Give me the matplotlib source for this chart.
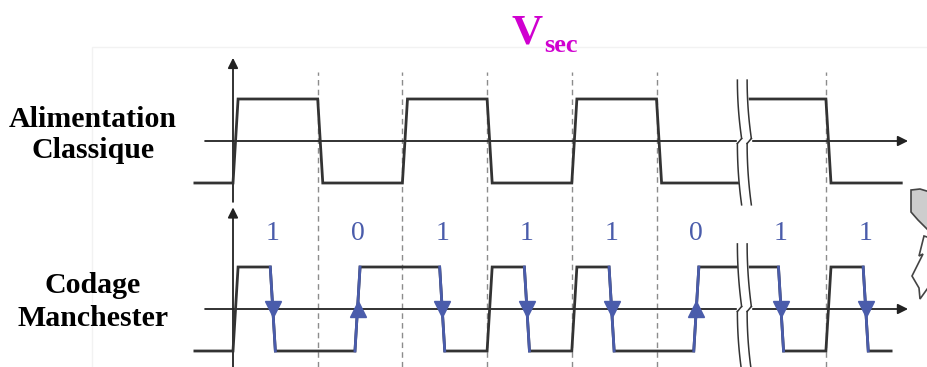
import numpy as np
import matplotlib.pyplot as plt
from matplotlib.patches import Polygon, Rectangle

# données : bits transmis et horloge de l'alimentation classique
bits = [1, 0, 1, 1, 1, 0, 1, 1]
bit_labels = [str(b) for b in bits]
clock = [1, -1, 1, -1, 1, -1, 1, -1]
break_at = 6               # coupure de l'axe du temps (en périodes de bit)
top_start, top_end = -0.45, 7.89
man_start, man_end = -0.45, 7.77

# échelle : 1 période de bit = 84.7 px, 1 niveau = 42 px
PX, PY = 84.7, 42.0
X0, Y0 = 233, 141
W, H = 928, 367
OFF = -4.0                 # décalage vertical du chronogramme Manchester

BLACK = '#333333'
BLUE = '#4a5cab'
MAGENTA = '#d000d0'
RAMP = 0.06


def px(x, y):
    # position en pixels -> coordonnées du graphique
    return (x - X0) / PX, (Y0 - y) / PY


def waveform(levels, step, start, end, mid_shift=0.0):
    xs, ys = [start], [-1]
    prev = -1
    trans = []
    for j, lv in enumerate(levels):
        xb = j * step
        if j % 2 == 1:
            xb += mid_shift
        if lv != prev:
            xs += [xb, xb + RAMP]
            ys += [prev, lv]
            trans.append((xb, prev, lv, j))
        prev = lv
    xs.append(end)
    ys.append(prev)
    return np.array(xs), np.array(ys), trans


fig = plt.figure(figsize=(W / 100, H / 100), dpi=100)
ax = fig.add_axes([0, 0, 1, 1])
ax.set_xlim(-X0 / PX, (W - X0) / PX)
ax.set_ylim(-(H - Y0) / PY, Y0 / PY)
ax.axis('off')

ymin, ymax = ax.get_ylim()

# cadre très clair
fx, fy = px(92, 47)
ax.add_patch(Rectangle((fx, ymin - 1), 20, fy - ymin + 1, fill=False,
                       edgecolor='#f2f2f2', lw=1, zorder=0))

# lignes pointillées aux frontières de bit
for k in range(1, len(bits)):
    if k == break_at:
        continue
    ax.plot([k, k], [ymin, 1.64], color='#8c8c8c', lw=1,
            linestyle=(0, (4, 3)), zorder=1)

# axes
arrow = dict(arrowstyle='-|>', lw=1.3, color='#222222', mutation_scale=15,
             shrinkA=0, shrinkB=0)
for base, ytail, ytip in [(0, -1.45, 1.98), (OFF, ymin, OFF + 2.42)]:
    ax.annotate('', xy=(0, ytip), xytext=(0, ytail), arrowprops=arrow, zorder=2)
    ax.annotate('', xy=(7.97, base), xytext=(-0.33, base), arrowprops=arrow, zorder=2)

# alimentation classique
xs, ys, _ = waveform(clock, 1.0, top_start, top_end)
ax.plot(xs, ys, color=BLACK, lw=2.0, solid_joinstyle='miter', zorder=3)

# codage Manchester
halves = []
for b in bits:
    halves += [1 if b else -1, -1 if b else 1]
xs, ys, trans = waveform(halves, 0.5, man_start, man_end, mid_shift=-0.06)
ax.plot(xs, ys + OFF, color=BLACK, lw=2.0, solid_joinstyle='miter', zorder=3)
for xb, a, b, j in trans:
    if j % 2 == 1:
        ax.plot([xb, xb + RAMP], [a + OFF, b + OFF], color=BLUE, lw=2.0, zorder=4)
        ax.plot(xb + RAMP / 2, OFF, marker='^' if b > a else 'v',
                color=BLUE, markersize=12, zorder=4)

for k, lab in enumerate(bit_labels):
    ax.text(k + 0.47, OFF + 1.8, lab, color=BLUE, fontsize=20,
            family='Liberation Serif', ha='center', va='center')


# coupures de l'axe du temps
def cut(y_top, y_mid, y_bot):
    for ya, yb in [(y_top, y_mid + 0.06), (y_mid - 0.06, y_bot)]:
        yy = np.linspace(ya, yb, 40)
        t = (ya - yy) / (ya - yb)
        dx = 0.05 * t ** 2
        xl = break_at - 0.045 + dx
        xr = break_at + 0.07 + dx
        ax.fill_betweenx(yy, xl, xr, color='white', zorder=5)
        ax.plot(xl, yy, color='#333333', lw=1.1, zorder=6)
        ax.plot(xr, yy, color='#333333', lw=1.1, zorder=6)
    ax.fill_betweenx([y_mid - 0.07, y_mid + 0.07], break_at - 0.045,
                     break_at + 0.12, color='white', zorder=5)
    ax.plot([break_at + 0.005, break_at - 0.045], [y_mid + 0.06, y_mid - 0.06],
            color='#333333', lw=1.1, zorder=6)
    ax.plot([break_at + 0.12, break_at + 0.07], [y_mid + 0.06, y_mid - 0.06],
            color='#333333', lw=1.1, zorder=6)


cut(1.45, 0, -1.52)
cut(OFF + 1.55, OFF, ymin - 0.1)

# titres
serif_bold = dict(family='Liberation Serif', fontweight='bold')
ax.text(*px(527, 43), 'V', color=MAGENTA, fontsize=31, ha='center',
        va='baseline', **serif_bold)
ax.text(*px(561, 52), 'sec', color=MAGENTA, fontsize=19, ha='center',
        va='baseline', **serif_bold)
for label, (x, y) in [('Alimentation', (93, 127)), ('Classique', (93, 158)),
                      ('Codage', (93, 293)), ('Manchester', (93, 326))]:
    ax.text(*px(x, y), label, fontsize=21.5, ha='center', va='baseline',
            **serif_bold)

# flèche grise courbe (coupée par le bord)
tail = [px(911, 190), px(911, 212), px(918, 220), px(930, 232),
        px(930, 192), px(920, 189)]
ax.add_patch(Polygon(tail, closed=True, facecolor='#cdcdcd',
                     edgecolor='#444444', lw=1.2, zorder=2))
head = [px(924, 236), px(919, 256), px(923, 254), px(912, 276),
        px(919, 288), px(920, 299), px(930, 285), px(930, 238)]
ax.add_patch(Polygon(head, closed=True, facecolor='white',
                     edgecolor='#444444', lw=1.2, zorder=2))

fig.savefig('out.png', dpi=100)
